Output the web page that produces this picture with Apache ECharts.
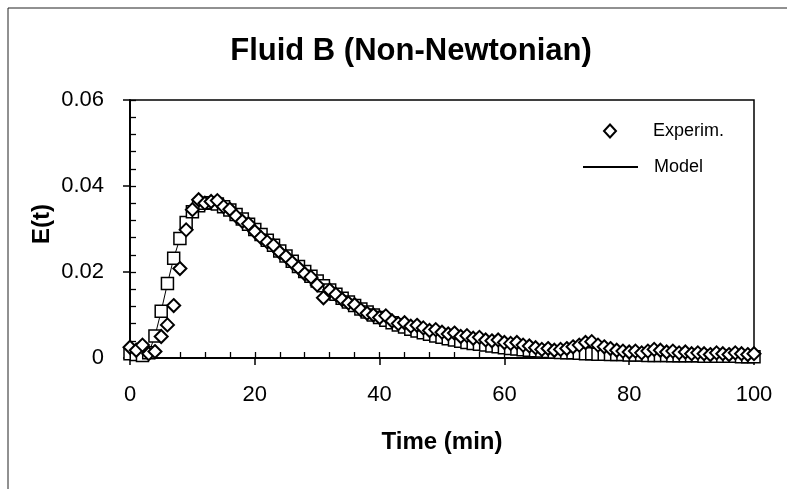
<!DOCTYPE html>
<html lang="en">
<head>
    <meta charset="UTF-8">
    <title>Fluid B (Non-Newtonian)</title>
    <script src="https://cdn.jsdelivr.net/npm/echarts@6/dist/echarts.min.js"></script>
    <style>
        html, body { margin: 0; padding: 0; background: #fff; }
    </style>
</head>
<body>
<div id="chart" style="width: 787px; height: 489px;"></div>
<script type="text/javascript">

// time in minutes
var minutes = [0,1,2,3,4,5,6,7,8,9,10,11,12,13,14,15,16,17,18,19,
    20,21,22,23,24,25,26,27,28,29,30,31,32,33,34,35,36,37,38,39,
    40,41,42,43,44,45,46,47,48,49,50,51,52,53,54,55,56,57,58,59,
    60,61,62,63,64,65,66,67,68,69,70,71,72,73,74,75,76,77,78,79,
    80,81,82,83,84,85,86,87,88,89,90,91,92,93,94,95,96,97,98,99,100];

// measured E(t) (diamonds)
var experim = [0.0025,0.0018,0.0030,0.0010,0.0015,0.0050,0.0077,0.0122,0.0208,0.0298,
    0.0345,0.0368,0.0360,0.0364,0.0366,0.0352,0.0346,0.0330,0.0318,0.0312,
    0.0294,0.0280,0.0270,0.0262,0.0246,0.0236,0.0222,0.0210,0.0196,0.0188,
    0.0170,0.0140,0.0158,0.0148,0.0136,0.0128,0.0124,0.0112,0.0104,0.0100,
    0.0094,0.0098,0.0086,0.0080,0.0082,0.0074,0.0076,0.0070,0.0064,0.0066,
    0.0060,0.0056,0.0058,0.0050,0.0052,0.0046,0.0048,0.0042,0.0040,0.0042,
    0.0036,0.0034,0.0036,0.0030,0.0028,0.0024,0.0020,0.0022,0.0018,0.0020,
    0.0022,0.0026,0.0030,0.0036,0.0038,0.0030,0.0026,0.0022,0.0018,0.0016,
    0.0014,0.0016,0.0012,0.0016,0.0020,0.0018,0.0014,0.0016,0.0012,0.0014,
    0.0010,0.0012,0.0010,0.0008,0.0012,0.0010,0.0008,0.0012,0.0010,0.0008,0.0010];

// model E(t) (line with squares)
var model = [0.0010,0.0008,0.0006,0.0012,0.0051,0.0109,0.0173,0.0232,0.0278,0.0315,
    0.0340,0.0354,0.0360,0.0361,0.0358,0.0352,0.0344,0.0334,0.0323,0.0311,
    0.0299,0.0287,0.0274,0.0262,0.0249,0.0237,0.0225,0.0213,0.0201,0.0190,
    0.0179,0.0168,0.0158,0.0148,0.0139,0.0130,0.0122,0.0114,0.0107,0.0100,
    0.0094,0.0088,0.0082,0.0077,0.0072,0.0067,0.0063,0.0059,0.0055,0.0051,
    0.0048,0.0045,0.0042,0.0039,0.0036,0.0034,0.0032,0.0030,0.0028,0.0026,
    0.0024,0.0022,0.0021,0.0019,0.0018,0.0017,0.0016,0.0015,0.0014,0.0013,
    0.0012,0.0012,0.0011,0.0010,0.0010,0.0009,0.0009,0.0008,0.0008,0.0008,
    0.0007,0.0007,0.0007,0.0006,0.0006,0.0006,0.0006,0.0005,0.0005,0.0005,
    0.0005,0.0005,0.0004,0.0004,0.0004,0.0004,0.0004,0.0004,0.0003,0.0003,0.0003];

var yTicks = [0, 0.02, 0.04, 0.06];

function pairs(xs, ys) {
    var out = [];
    for (var i = 0; i < xs.length; i++) out.push([xs[i], ys[i]]);
    return out;
}

var font = '"Liberation Sans", Arial, sans-serif';
var myChart = echarts.init(document.getElementById('chart'));

// minor tick axes (ticks only, pointing into the plot)
function minorAxis(max, step, pos) {
    return {
        type: 'value', min: 0, max: max, interval: step, position: pos,
        axisLine: { show: true, onZero: false, lineStyle: { color: '#000', width: 1.5 } },
        axisTick: { show: true, inside: true, length: 6, lineStyle: { color: '#000', width: 1.3 } },
        axisLabel: { show: false },
        splitLine: { show: false }
    };
}

var option = {
    animation: false,
    backgroundColor: '#fff',
    title: {
        text: 'Fluid B (Non-Newtonian)',
        left: 406, top: 31, textAlign: 'center',
        textStyle: { fontFamily: font, fontSize: 31, fontWeight: 'bold', color: '#000' }
    },
    legend: [
        {
            data: [{ name: 'Experim.', icon: 'diamond' }],
            left: 598, top: 117,
            itemWidth: 12, itemHeight: 13,
            itemStyle: { color: '#fff', borderColor: '#000', borderWidth: 2 },
            textStyle: { fontFamily: font, fontSize: 18, color: '#000', padding: [0, 0, 0, 32] }
        },
        {
            data: [{ name: 'Model', icon: 'rect' }],
            left: 578, top: 153,
            itemWidth: 55, itemHeight: 2,
            itemStyle: { color: '#000', borderWidth: 0 },
            textStyle: { fontFamily: font, fontSize: 18, color: '#000', padding: [0, 0, 0, 11] }
        }
    ],
    grid: {
        left: 130, right: 33, top: 100, bottom: 131,
        show: true, borderColor: '#000', borderWidth: 1.5,
        containLabel: false
    },
    xAxis: [
        {
            type: 'value', min: 0, max: 100, interval: 20,
            name: 'Time (min)', nameLocation: 'middle', nameGap: 72,
            nameTextStyle: { fontFamily: font, fontSize: 24, fontWeight: 'bold', color: '#000' },
            axisLine: { onZero: false, lineStyle: { color: '#000', width: 1.5 } },
            axisTick: { length: 7, lineStyle: { color: '#000', width: 1.5 } },
            axisLabel: { fontFamily: font, fontSize: 22, color: '#000', margin: 26 },
            splitLine: { show: false }
        },
        minorAxis(100, 4, 'bottom')
    ],
    yAxis: [
        {
            type: 'value', min: 0, max: 0.06, interval: 0.02,
            axisLine: { onZero: false, lineStyle: { color: '#000', width: 1.5 } },
            axisTick: { length: 7, lineStyle: { color: '#000', width: 1.5 } },
            axisLabel: { fontFamily: font, fontSize: 22, color: '#000', margin: 26,
                formatter: function (v) {
                    var r = +v.toFixed(2);
                    if (yTicks.indexOf(r) < 0) return '';
                    return r === 0 ? '0' : r.toFixed(2);
                } },
            splitLine: { show: false }
        },
        minorAxis(0.06, 0.004, 'left')
    ],
    graphic: [
        {
            type: 'rect', silent: true,
            shape: { x: 8, y: 8, width: 800, height: 500 },
            style: { fill: 'none', stroke: '#222', lineWidth: 1 }
        },
        {
            type: 'text', silent: true,
            x: 42, y: 224, rotation: Math.PI / 2,
            style: { text: 'E(t)', fontFamily: font, fontSize: 24, fontWeight: 'bold',
                fill: '#000', align: 'center', verticalAlign: 'middle' }
        }
    ],
    series: [
        {
            name: 'Model',
            type: 'line',
            data: pairs(minutes, model),
            symbol: 'rect', symbolSize: 12, showSymbol: true,
            lineStyle: { color: '#000', width: 1 },
            itemStyle: { color: '#fff', borderColor: '#000', borderWidth: 1.5, opacity: 1 },
            z: 3
        },
        {
            name: 'Experim.',
            type: 'scatter',
            data: pairs(minutes, experim),
            symbol: 'diamond', symbolSize: 13,
            itemStyle: { color: '#fff', borderColor: '#000', borderWidth: 2, opacity: 1 },
            z: 4
        }
    ]
};
myChart.setOption(option);

</script>
</body>
</html>
